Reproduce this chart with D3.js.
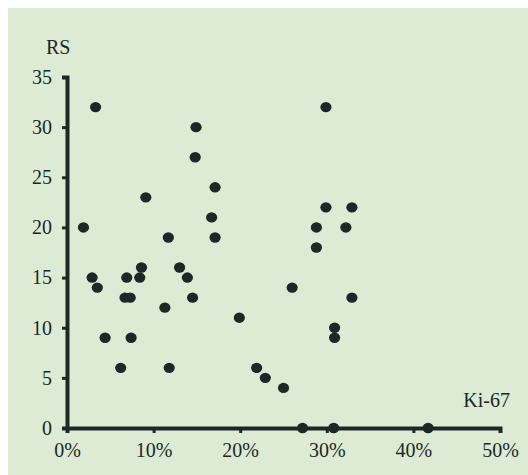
<!DOCTYPE html>
<html>
<head>
<meta charset="utf-8">
<style>
  body { margin: 0; background: #fff; }
  svg { display: block; }
</style>
</head>
<body>
<script src="https://d3js.org/d3.v7.min.js"></script>
<script>
// Ki-67 (%) vs RS
var ki67 = [3.3, 1.9, 2.9, 3.5, 4.4, 6.2, 6.9, 6.7, 7.3, 7.4, 8.4, 8.6, 9.1,
            11.3, 11.7, 11.8, 13.0, 13.9, 14.5, 14.8, 14.9, 16.7, 17.1, 17.1,
            19.9, 21.9, 22.9, 25.0, 26.0, 27.2, 28.8, 28.8, 29.9, 29.9, 30.8,
            30.9, 30.9, 32.2, 32.9, 32.9, 41.7];
var rs =   [32, 20, 15, 14, 9, 6, 15, 13, 13, 9, 15, 16, 23,
            12, 19, 6, 16, 15, 13, 27, 30, 21, 24, 19,
            11, 6, 5, 4, 14, 0, 20, 18, 32, 22, 0,
            10, 9, 20, 22, 13, 0];
var xTicks = [0, 10, 20, 30, 40, 50];
var yTicks = [0, 5, 10, 15, 20, 25, 30, 35];

var W = 528, H = 475;
var ink = "#1b2826";
var serif = "'Liberation Serif', 'Times New Roman', Times, serif";

var svg = d3.select("body").append("svg").attr("width", W).attr("height", H);

svg.append("rect").attr("x", 8).attr("y", 8).attr("width", W - 8).attr("height", H - 8)
   .attr("fill", "#deebd4");

var x = d3.scaleLinear().domain([0, 50]).range([67, 500]);
var y = d3.scaleLinear().domain([0, 35]).range([428, 77]);

function styleAxis(g) {
    g.select(".domain").attr("stroke", ink).attr("stroke-width", 4).attr("fill", "none");
    g.selectAll(".tick line").attr("stroke", ink).attr("stroke-width", 3);
    g.selectAll("text").attr("font-family", serif).attr("font-size", 20).attr("fill", ink);
}

// axes
svg.append("g")
    .attr("transform", "translate(0," + y(0) + ")")
    .call(d3.axisBottom(x).tickValues(xTicks).tickFormat(function(d) { return d + "%"; })
          .tickSizeInner(5).tickSizeOuter(5).tickPadding(10))
    .call(styleAxis);

svg.append("g")
    .attr("transform", "translate(" + x(0) + ",0)")
    .call(d3.axisLeft(y).tickValues(yTicks).tickSizeInner(5).tickSizeOuter(5).tickPadding(10))
    .call(styleAxis);

// points
svg.append("g").selectAll("ellipse")
   .data(d3.range(ki67.length))
   .enter().append("ellipse")
   .attr("cx", function(i) { return x(ki67[i]); })
   .attr("cy", function(i) { return y(rs[i]); })
   .attr("rx", 5.6).attr("ry", 5.2)
   .attr("fill", ink);

// axis titles
svg.append("text").attr("x", 46).attr("y", 54)
   .attr("font-family", serif).attr("font-size", 20).attr("fill", ink)
   .text("RS");
svg.append("text").attr("x", 510).attr("y", 407).attr("text-anchor", "end")
   .attr("font-family", serif).attr("font-size", 20).attr("fill", ink)
   .text("Ki-67");
</script>
</body>
</html>
